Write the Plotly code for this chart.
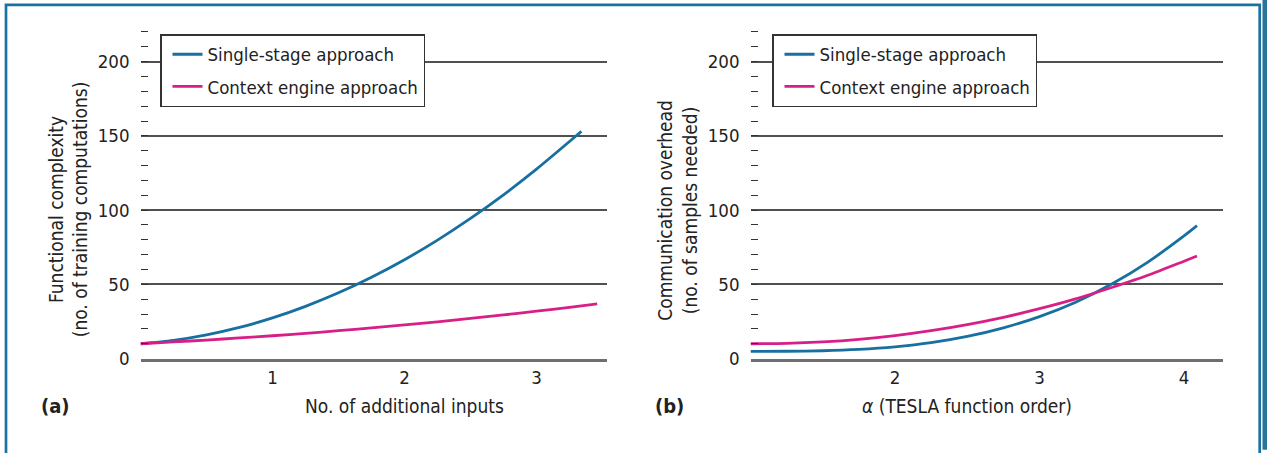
import plotly.graph_objects as go

# ---- data ----
inputs_x = [0, 0.25, 0.5, 0.75, 1.0, 1.25, 1.5, 1.75, 2.0, 2.25, 2.5, 2.75, 3.0, 3.25, 3.34]
single_a = [10, 12.3, 16.0, 21.0, 27.4, 35.2, 44.3, 54.8, 66.6, 79.8, 94.4, 110.3, 127.6, 146.2, 153.0]
inputs_x_ctx = [0, 0.25, 0.5, 0.75, 1.0, 1.25, 1.5, 1.75, 2.0, 2.25, 2.5, 2.75, 3.0, 3.25, 3.46]
context_a = [10, 11.2, 12.5, 13.9, 15.4, 17.0, 18.8, 20.7, 22.7, 24.8, 27.1, 29.4, 31.9, 34.5, 36.8]

alpha_x = [1.0, 1.25, 1.5, 1.75, 2.0, 2.25, 2.5, 2.75, 3.0, 3.25, 3.5, 3.75, 4.0, 4.09]
single_b = [4.9, 4.95, 5.3, 6.2, 7.9, 10.7, 14.9, 20.7, 28.3, 38.0, 50.2, 65.0, 82.6, 89.5]
context_b = [10.0, 10.3, 11.3, 13.0, 15.5, 18.8, 22.9, 27.8, 33.6, 40.2, 47.9, 56.1, 65.6, 69.1]

series_names = ["Single-stage approach", "Context engine approach"]
y_ticks = [0, 50, 100, 150, 200]
xa_ticks = [1, 2, 3]
xb_ticks = [2, 3, 4]

BLUE = "#17709f"
PINK = "#d81f87"
FONT = "DejaVu Sans Condensed, Liberation Sans, sans-serif"
FS = 18.5
W, H = 1267, 453

def px(x):
    return x / W

def py(y):
    return 1 - y / H

fig = go.Figure()
line_kw = dict(width=2.8, shape="spline", smoothing=0.8)
fig.add_trace(go.Scatter(x=inputs_x, y=single_a, mode="lines", name=series_names[0], legendgroup="a1",
                         line=dict(color=BLUE, **line_kw), xaxis="x", yaxis="y", legend="legend"))
fig.add_trace(go.Scatter(x=inputs_x_ctx, y=context_a, mode="lines", name=series_names[1], legendgroup="a2",
                         line=dict(color=PINK, **line_kw), xaxis="x", yaxis="y", legend="legend"))
fig.add_trace(go.Scatter(x=alpha_x, y=single_b, mode="lines", name=series_names[0], legendgroup="b1",
                         line=dict(color=BLUE, **line_kw), xaxis="x2", yaxis="y2", legend="legend2"))
fig.add_trace(go.Scatter(x=alpha_x, y=context_b, mode="lines", name=series_names[1], legendgroup="b2",
                         line=dict(color=PINK, **line_kw), xaxis="x2", yaxis="y2", legend="legend2"))

ydom = [py(366.7), py(366.7 - 222 * 1.5185)]
yax = dict(range=[0, 222], domain=ydom, tickvals=y_ticks, ticks="inside", ticklen=7,
           tickcolor="#333", tickwidth=1.3, showgrid=True, gridcolor="#505050", gridwidth=1.6,
           zeroline=False, showline=False, ticklabelstandoff=10,
           tickfont=dict(family=FONT, size=FS, color="#222"),
           minor=dict(dtick=10, ticks="inside", ticklen=7, tickcolor="#333", tickwidth=1.3, showgrid=False))
xcommon = dict(showgrid=False, zeroline=False, ticks="", showline=True, linecolor="#6f6f6f",
               linewidth=3, ticklabelstandoff=0, tickfont=dict(family=FONT, size=FS, color="#222"))

legend_common = dict(xanchor="left", yanchor="top", bordercolor="#333", borderwidth=1.5,
                     bgcolor="white", tracegroupgap=5, indentation=6,
                     font=dict(family=FONT, size=FS, color="#222"))

fig.update_layout(
    width=W, height=H, autosize=False, margin=dict(l=0, r=0, t=0, b=0, pad=0),
    paper_bgcolor="white", plot_bgcolor="white",
    xaxis=dict(domain=[px(140.5), px(607)], range=[0, (607 - 140.5) / 132], tickvals=xa_ticks,
               anchor="y", **xcommon),
    yaxis=dict(anchor="x", **yax),
    xaxis2=dict(domain=[px(750.5), px(1223)], range=[1, 1 + (1223 - 750.5) / 144.5], tickvals=xb_ticks,
                anchor="y2", **xcommon),
    yaxis2=dict(anchor="x2", **yax),
    legend=dict(x=px(160), y=py(35), **legend_common),
    legend2=dict(x=px(772), y=py(35), **legend_common),
    showlegend=True,
)

ann_font = dict(family=FONT, size=19, color="#222")
fig.add_annotation(text="Functional complexity<br>(no. of training computations)", x=px(68), y=py(214),
                   xref="paper", yref="paper", showarrow=False, textangle=-90, font=ann_font,
                   xanchor="center", yanchor="middle")
fig.add_annotation(text="Communication overhead<br>(no. of samples needed)", x=px(677.5), y=py(215),
                   xref="paper", yref="paper", showarrow=False, textangle=-90, font=ann_font,
                   xanchor="center", yanchor="middle")
fig.add_annotation(text="No. of additional inputs", x=px(404), y=py(415), xref="paper", yref="paper",
                   showarrow=False, font=ann_font, xanchor="center", yanchor="middle")
fig.add_annotation(text="<i>α</i> (TESLA function order)", x=px(967), y=py(415), xref="paper", yref="paper",
                   showarrow=False, font=ann_font, xanchor="center", yanchor="middle")
fig.add_annotation(text="<b>(a)</b>", x=px(55), y=py(415), xref="paper", yref="paper",
                   showarrow=False, font=dict(family=FONT, size=20, color="#222"), xanchor="center", yanchor="middle")
fig.add_annotation(text="<b>(b)</b>", x=px(669.5), y=py(415), xref="paper", yref="paper",
                   showarrow=False, font=dict(family=FONT, size=20, color="#222"), xanchor="center", yanchor="middle")

# frame
fig.add_shape(type="rect", xref="paper", yref="paper", x0=px(6), x1=px(1259.7), y0=py(470), y1=py(5),
              line=dict(color="#1a72a4", width=2.7), fillcolor="rgba(0,0,0,0)", layer="above")
fig.add_shape(type="rect", xref="paper", yref="paper", x0=px(1262.5), x1=px(1268), y0=py(460), y1=py(-5),
              line=dict(width=0), fillcolor="#2a7499", layer="above")

fig.write_html("out.html", config={"responsive": False})
